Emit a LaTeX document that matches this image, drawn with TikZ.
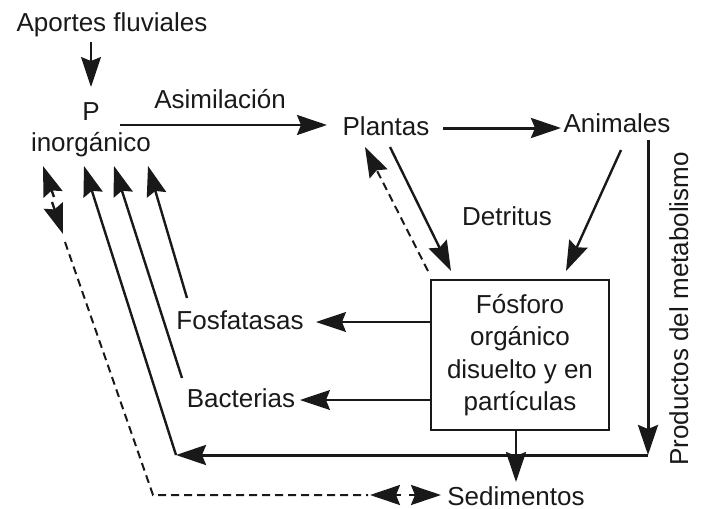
\documentclass[tikz,border=0pt]{standalone}
\usepackage{fontspec}
\setmainfont{Liberation Sans}
\usetikzlibrary{arrows.meta}
\definecolor{ink}{RGB}{25,25,25}
\begin{document}
\begin{tikzpicture}[x=1pt,y=-1pt,
  lbl/.style={font=\fontsize{26}{31}\selectfont, text=ink, inner sep=0pt},
  hd/.style={-{Stealth[length=30pt,width=20pt,inset=4pt]}},
  thinln/.style={line width=1.6pt, draw=ink},
  medln/.style={line width=2.4pt, draw=ink},
  thickln/.style={line width=3pt, draw=ink},
  dashln/.style={line width=2pt, draw=ink, dash pattern=on 8pt off 5pt},
]
\useasboundingbox (0,0) rectangle (702,509);

% nodes
\node[lbl, anchor=base] (aportes) at (112,31) {Aportes fluviales};
\node[lbl, align=center] (pinorg) at (91,130) {P\\inorgánico};
\node[lbl, anchor=base] (asim) at (220,108) {Asimilación};
\node[lbl, anchor=base] (plantas) at (386,135) {Plantas};
\node[lbl, anchor=base] (animales) at (617,132) {Animales};
\node[lbl, anchor=base] (detritus) at (507,225) {Detritus};
\node[lbl, draw=ink, line width=1.6pt, minimum width=178pt, minimum height=150pt,
      align=center, font=\fontsize{26}{32.5}\selectfont] (box) at (520,355)
      {Fósforo\\orgánico\\disuelto y en\\partículas};
\node[lbl, anchor=base] (fosf) at (240,329) {Fosfatasas};
\node[lbl, anchor=base] (bact) at (241,407) {Bacterias};
\node[lbl, anchor=base] (sed) at (516,505) {Sedimentos};
\node[lbl, rotate=90, anchor=base] (prod) at (688,309) {Productos del metabolismo};

% coordinates
\coordinate (apS) at (91,42);   \coordinate (piN) at (91,87);
\coordinate (asA) at (120,125); \coordinate (asB) at (327,125);
\coordinate (plE) at (443,128); \coordinate (anW) at (561,128);
\coordinate (plD) at (390,147); \coordinate (bxA) at (451,271);
\coordinate (bxD) at (428,271); \coordinate (plU) at (365,147);
\coordinate (anD) at (621,150); \coordinate (bxB) at (566,271);
\coordinate (pmT) at (648,140); \coordinate (pmC) at (648,455);
\coordinate (lfC) at (176,455); \coordinate (piA) at (84,166);
\coordinate (baT) at (182,378); \coordinate (piB) at (114,166);
\coordinate (foT) at (187,298); \coordinate (piC) at (148,166);
\coordinate (bxF) at (431,322); \coordinate (foE) at (316,322);
\coordinate (bxG) at (431,400); \coordinate (baE) at (300,400);
\coordinate (bxS) at (516,431); \coordinate (seN) at (516,482);
\coordinate (dsT) at (65,242);  \coordinate (dsC) at (153,495);
\coordinate (dsE) at (368,495);
\coordinate (u1) at (54,197);   \coordinate (u2) at (43,166);
\coordinate (d1) at (52,202);   \coordinate (d2) at (63,234);
\coordinate (l1) at (401,495);  \coordinate (l2) at (370,495);
\coordinate (r1) at (409,495);  \coordinate (r2) at (441,495);

% connectors
\draw[thinln, hd] (apS) -- (piN);
\draw[medln, hd] (asA) -- (asB);
\draw[thickln, hd] (plE) -- (anW);
\draw[medln, hd] (plD) -- (bxA);
\draw[dashln, hd] (bxD) -- (plU);
\draw[medln, hd] (anD) -- (bxB);
\draw[thickln, hd] (pmT) -- (pmC);
\draw[thickln, hd] (pmC) -- (lfC);
\draw[medln, hd] (lfC) -- (piA);
\draw[medln, hd] (baT) -- (piB);
\draw[medln, hd] (foT) -- (piC);
\draw[thinln, hd] (bxF) -- (foE);
\draw[thinln, hd] (bxG) -- (baE);
\draw[medln, hd] (bxS) -- (seN);
\draw[dashln] (dsT) -- (dsC) -- (dsE);
\draw[medln, hd] (u1) -- (u2);
\draw[medln, hd] (d1) -- (d2);
\draw[medln, hd] (l1) -- (l2);
\draw[medln, hd] (r1) -- (r2);
\end{tikzpicture}
\end{document}
